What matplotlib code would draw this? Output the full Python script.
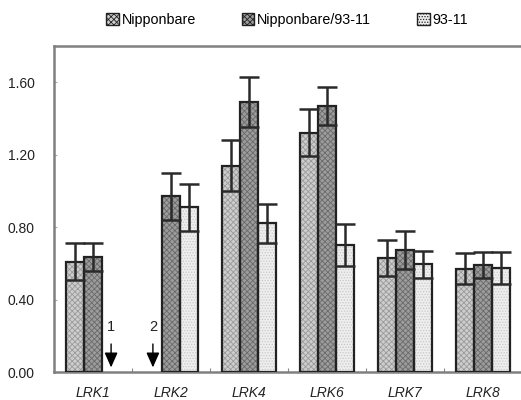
import matplotlib
matplotlib.use("Agg")
import matplotlib.pyplot as plt
import numpy as np

plt.rcParams["font.family"] = ["Liberation Sans", "DejaVu Sans"]
plt.rcParams["hatch.linewidth"] = 0.6

# data
genes = ["LRK1", "LRK2", "LRK4", "LRK6", "LRK7", "LRK8"]
series = ["Nipponbare", "Nipponbare/93-11", "93-11"]
nip = [0.61, np.nan, 1.14, 1.32, 0.63, 0.57]
nip_err = [0.10, np.nan, 0.14, 0.13, 0.10, 0.085]
hyb = [0.635, 0.97, 1.49, 1.47, 0.675, 0.59]
hyb_err = [0.08, 0.13, 0.14, 0.105, 0.105, 0.07]
ind = [np.nan, 0.91, 0.82, 0.70, 0.595, 0.575]
ind_err = [np.nan, 0.13, 0.105, 0.115, 0.075, 0.09]
yticks = [0.0, 0.4, 0.8, 1.2, 1.6]
missing = [(0, 2, "1"), (1, 0, "2")]  # (gene, series, label)

values = [nip, hyb, ind]
errors = [nip_err, hyb_err, ind_err]
faces = ["#cdcdcd", "#9c9c9c", "#eeeeee"]
hatch_cols = ["#9a9a9a", "#6a6a6a", "#c8c8c8"]
hatches = ["xxxxxx", "xxxxxx", "......"]

fig = plt.figure(figsize=(5.21, 4.0), dpi=100)
ax = fig.add_axes([54 / 521, 28 / 400, 468 / 521, 326 / 400])

x = np.arange(len(genes)) + 0.5
w = 0.232
offs = [-w, 0, w]

for i in range(3):
    xs = x + offs[i]
    ax.bar(xs, values[i], w, color=faces[i], hatch=hatches[i],
           edgecolor=hatch_cols[i], linewidth=0, zorder=2)
    ax.bar(xs, values[i], w, fill=False, edgecolor="#222222",
           linewidth=1.6, zorder=3)
    ax.errorbar(xs, values[i], yerr=errors[i], fmt="none", ecolor="#2a2a2a",
                elinewidth=1.8, capsize=7, capthick=1.8, zorder=4)

for g, s, lab in missing:
    xp = x[g] + offs[s]
    ax.annotate("", xy=(xp, 0.01), xytext=(xp, 0.17),
                arrowprops=dict(arrowstyle="-|>,head_length=0.9,head_width=0.4",
                                color="black", lw=1.0), zorder=5)
    ax.text(xp, 0.25, lab, ha="center", va="center", fontsize=10.5,
            color="#222222")

ax.set_xlim(0, 6)
ax.set_ylim(0, 1.8)
ax.set_yticks(yticks)
ax.set_yticklabels([f"{v:.2f}" for v in yticks], fontsize=10, color="#222222")
ax.set_xticks(np.arange(1, 6))
ax.set_xticklabels([])
ax.set_xticks(x, minor=True)
ax.set_xticklabels(genes, minor=True, fontsize=10, style="italic",
                   color="#222222")
ax.tick_params(axis="x", which="major", direction="in", length=3,
               color="#888888")
ax.tick_params(axis="x", which="minor", length=0, pad=10)
ax.tick_params(axis="y", direction="in", length=2, color="#aaaaaa", pad=14)
for sp in ax.spines.values():
    sp.set_color("#808080")
    sp.set_linewidth(1.8)

handles = [plt.Rectangle((0, 0), 1, 1, facecolor=faces[i], hatch=hatches[i],
                         edgecolor="#222222", linewidth=1.0) for i in range(3)]
fig.legend(handles, series, loc="upper center", bbox_to_anchor=(0.551, 1.0),
           ncol=3, frameon=False, fontsize=10.3, handlelength=0.9,
           handleheight=0.9, handletextpad=0.2, columnspacing=3.2)

fig.savefig("out.png", dpi=100)
